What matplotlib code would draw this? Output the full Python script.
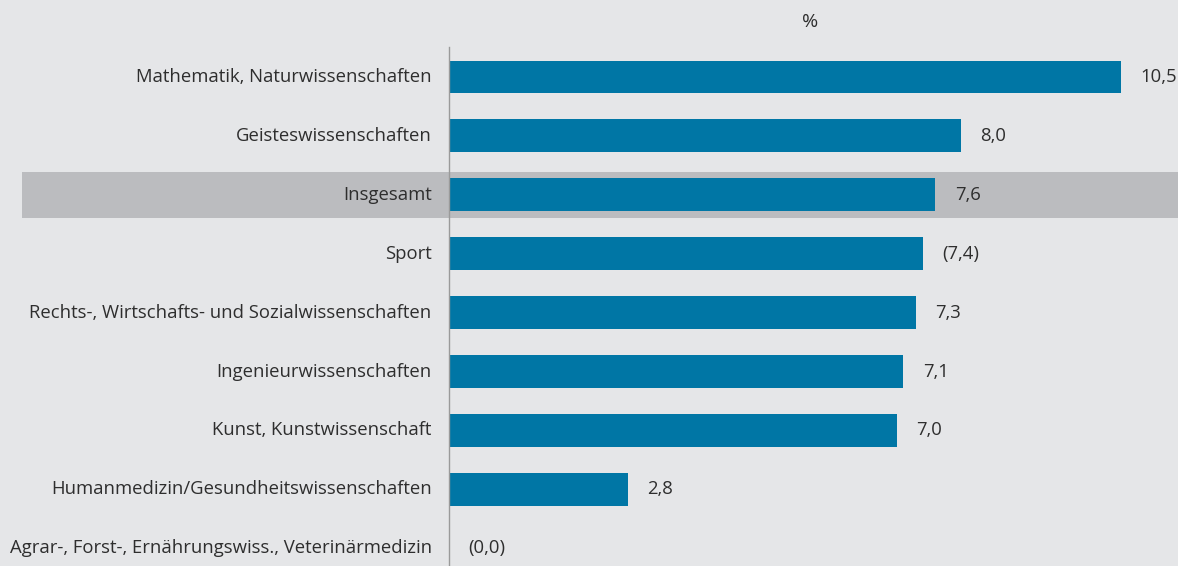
import matplotlib.pyplot as plt

categories = [
    "Mathematik, Naturwissenschaften",
    "Geisteswissenschaften",
    "Insgesamt",
    "Sport",
    "Rechts-, Wirtschafts- und Sozialwissenschaften",
    "Ingenieurwissenschaften",
    "Kunst, Kunstwissenschaft",
    "Humanmedizin/Gesundheitswissenschaften",
    "Agrar-, Forst-, Ernährungswiss., Veterinärmedizin",
]
values = [10.5, 8.0, 7.6, 7.4, 7.3, 7.1, 7.0, 2.8, 0.0]
value_labels = ["10,5", "8,0", "7,6", "(7,4)", "7,3", "7,1", "7,0", "2,8", "(0,0)"]
highlight = "Insgesamt"

bg = "#e5e6e8"
band = "#bbbcbf"
blue = "#0076a5"
txt = "#2e2e2e"

plt.rcParams['font.family'] = ['Open Sans', 'DejaVu Sans']

fig = plt.figure(figsize=(11.78, 5.66), dpi=100, facecolor=bg)
ax = fig.add_axes([0, 0, 1, 1])
ax.set_facecolor(bg)

# axes cover the whole figure; zero of the value scale sits at ~449 px
ax.set_xlim(-7.016, 11.39)
ax.set_ylim(8.30, -1.307)
ax.axis('off')

ypos = list(range(len(categories)))

for y, cat in zip(ypos, categories):
    if cat == highlight:
        ax.axhspan(y - 0.39, y + 0.39, xmin=22 / 1178, xmax=1, color=band, zorder=0, lw=0)

ax.barh(ypos, values, height=0.56, color=blue, zorder=2)
ax.plot([0, 0], [-0.51, 8.30], color="#9a9a9a", lw=1, zorder=3)

for y, cat, v, lab in zip(ypos, categories, values, value_labels):
    ax.text(-0.27, y, cat, ha='right', va='center', fontsize=13.3, color=txt)
    ax.text(v + 0.3, y, lab, ha='left', va='center', fontsize=13.3, color=txt)

ax.text(5.64, -0.93, "%", ha='center', va='center', fontsize=14, color=txt)

fig.savefig("out.png", dpi=100, facecolor=bg)
